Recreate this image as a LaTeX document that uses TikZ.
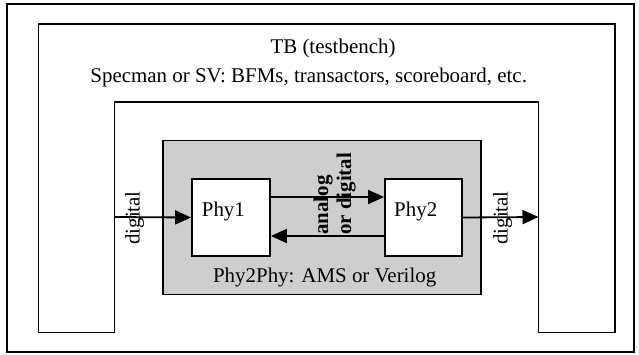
\documentclass[tikz,border=0pt]{standalone}
\usepackage{fontspec}
\setmainfont{Liberation Serif}
\usetikzlibrary{arrows.meta,calc}
\definecolor{dutgray}{RGB}{206,206,206}
\begin{document}
\begin{tikzpicture}[x=1bp,y=-1bp,
  frame/.style={draw=black,line width=1.8bp},
  phybox/.style={draw=black,line width=1.8bp,fill=white,inner sep=0,
    minimum width=78bp,minimum height=77bp},
  txt/.style={inner sep=0,font=\fontsize{21}{23}\selectfont},
  sig/.style={line width=1.8bp,-{Triangle[length=16bp,width=14bp]}}]
\useasboundingbox (0,0) rectangle (639,354);

% outer border
\draw[frame,line width=1.5bp] (7,4) rectangle (634,352);

% testbench: a U-shaped wall around the design
\draw[frame] (38.5,332.5) -- (38.5,24) -- (615,24) -- (615,332.5)
  -- (538.5,332.5) -- (538.5,102) -- (114.5,102) -- (114.5,332.5) -- cycle;
\node[txt,anchor=base] (tb) at (333,53) {TB (testbench)};
\node[txt,anchor=base] (tbsub) at (308.7,82) {Specman or SV: BFMs, transactors, scoreboard, etc.};

% design under test
\node[draw=black,line width=1.8bp,fill=dutgray,inner sep=0,
  minimum width=318bp,minimum height=154bp] (dut) at (322,217.5) {};
\node[txt,anchor=base] (dutlbl) at (324.7,282.7) {Phy2Phy: AMS or Verilog};

\node[phybox] (phy1) at (231,217.5) {};
\node[phybox,minimum width=77bp] (phy2) at (423.5,217.5) {};
\node[txt,anchor=base west] (phy1lbl) at (201.7,216.7) {Phy1};
\node[txt,anchor=base west] (phy2lbl) at (394,216.7) {Phy2};

% ports on the testbench wall
\coordinate (inL) at (114.5,217);
\coordinate (outR) at (538.5,217);

% connections
\draw[sig] (inL) -- (phy1.west);
\draw[sig] ([yshift=20.5bp]phy1.east) -- ([yshift=20.5bp]phy2.west);
\draw[sig] ([yshift=-18.5bp]phy2.west) -- ([yshift=-18.5bp]phy1.east);
\draw[sig] (phy2.east) -- (outR);

% signal labels
\node[txt,rotate=90,anchor=base] (dinlbl) at (139.5,218) {digital};
\node[txt,rotate=90,anchor=base] (doutlbl) at (507.5,218) {digital};
\node[txt,rotate=90,anchor=base west,font=\fontsize{21}{23}\selectfont\bfseries] (mid1) at (328,235) {analog};
\node[txt,rotate=90,anchor=base west,font=\fontsize{21}{23}\selectfont\bfseries] (mid2) at (351,235) {or digital};
\end{tikzpicture}
\end{document}
